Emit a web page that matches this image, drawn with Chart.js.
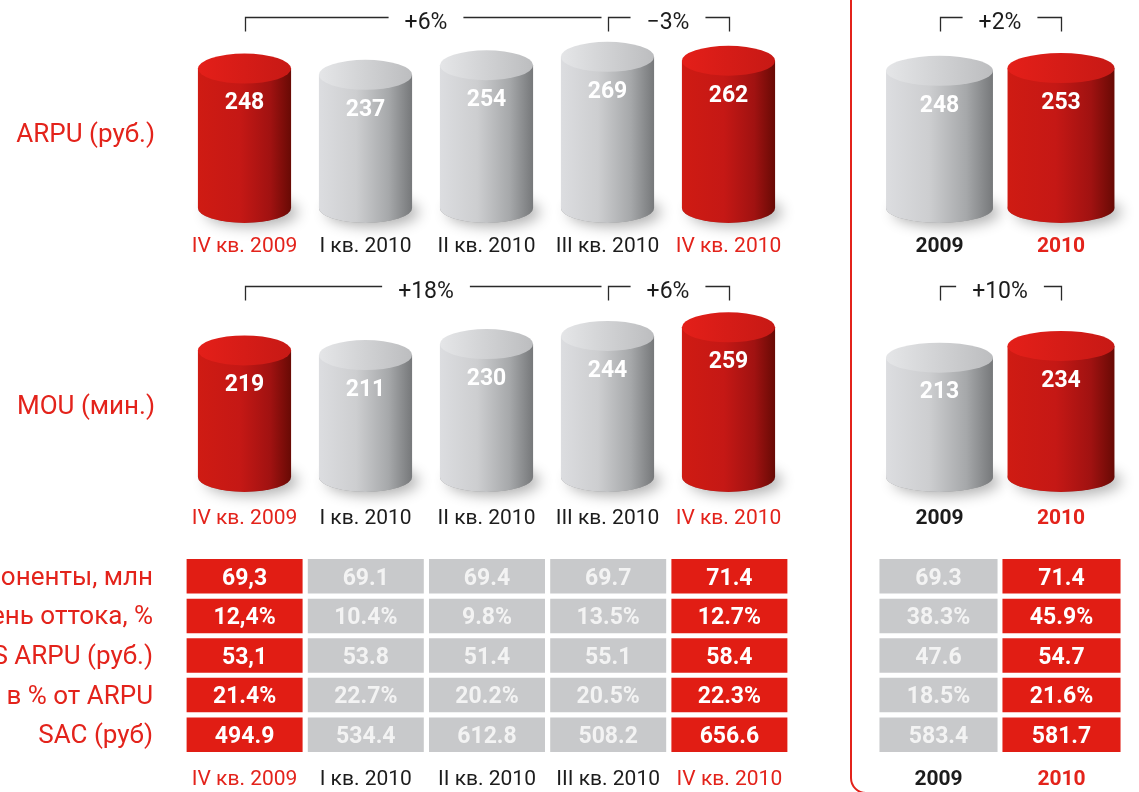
<!DOCTYPE html>
<html><head><meta charset="utf-8">
<script src="https://cdn.jsdelivr.net/npm/chart.js@4.4.1/dist/chart.umd.min.js"></script>
<style>
html,body{margin:0;padding:0;background:#fff;overflow:hidden;}
#wrap{position:relative;width:1139px;height:792px;overflow:hidden;background:#fff;}
canvas{position:absolute;left:0;top:0;}
#frame{position:absolute;left:850px;top:-30px;width:400px;height:824px;border:2.5px solid #e3231b;border-radius:16px;box-sizing:border-box;}
</style></head><body>
<div id="wrap">
<div id="frame"></div>
<canvas id="arpuQ" width="1139" height="792"></canvas>
<canvas id="arpuY" width="1139" height="792"></canvas>
<canvas id="mouQ" width="1139" height="792"></canvas>
<canvas id="mouY" width="1139" height="792"></canvas>
<canvas id="tabQ" width="1139" height="792"></canvas>
<canvas id="tabY" width="1139" height="792"></canvas>
</div>
<script>
// ---------- DATA ----------
const quarters = ['IV кв. 2009', 'I кв. 2010', 'II кв. 2010', 'III кв. 2010', 'IV кв. 2010'];
const years = ['2009', '2010'];
const highlightQ = [true, false, false, false, true];
const highlightY = [false, true];

const arpuQuarterly = [248, 237, 254, 269, 262];
const arpuYearly = [248, 253];
const mouQuarterly = [219, 211, 230, 244, 259];
const mouYearly = [213, 234];

const arpuQChanges = [{from: 0, to: 3, text: '+6%', rightTick: false}, {from: 3, to: 4, text: '−3%', rightTick: true}];
const arpuYChanges = [{from: 0, to: 1, text: '+2%', rightTick: true}];
const mouQChanges = [{from: 0, to: 3, text: '+18%', rightTick: false}, {from: 3, to: 4, text: '+6%', rightTick: true}];
const mouYChanges = [{from: 0, to: 1, text: '+10%', rightTick: true}];

const sideLabels = ['ARPU (руб.)', 'MOU (мин.)'];
const rowLabels = ['Абоненты, млн', 'Уровень оттока, %', 'VAS ARPU (руб.)', 'VAS - в % от ARPU', 'SAC (руб)'];
const tableQuarterly = [
  ['69,3', '69.1', '69.4', '69.7', '71.4'],
  ['12,4%', '10.4%', '9.8%', '13.5%', '12.7%'],
  ['53,1', '53.8', '51.4', '55.1', '58.4'],
  ['21.4%', '22.7%', '20.2%', '20.5%', '22.3%'],
  ['494.9', '534.4', '612.8', '508.2', '656.6']
];
const tableYearly = [
  ['69.3', '71.4'],
  ['38.3%', '45.9%'],
  ['47.6', '54.7'],
  ['18.5%', '21.6%'],
  ['583.4', '581.7']
];

// ---------- STYLE ----------
const W = 1139, H = 792;
const FONT = 'Roboto, "Open Sans", Arial, sans-serif';
const RED_TEXT = '#e3231b', BLACK_TEXT = '#1c1c1c';
const CELL_RED = '#e11d14', CELL_GRAY = '#c8c9cb';

function baseOptions(pad, yOpts) {
  return {
    responsive: false, animation: false, events: [],
    layout: {padding: pad},
    plugins: {legend: {display: false}, tooltip: {enabled: false}},
    scales: {x: {display: false}, y: Object.assign({display: false}, yOpts)}
  };
}

function drawCategoryLabels(ctx, xScale, labels, hi, y, bold) {
  ctx.save();
  ctx.font = (bold ? 'bold ' : '') + '21px ' + FONT;
  ctx.textAlign = 'center'; ctx.textBaseline = 'middle';
  labels.forEach((l, i) => {
    ctx.fillStyle = hi[i] ? RED_TEXT : BLACK_TEXT;
    ctx.fillText(l, xScale.getPixelForValue(i), y);
  });
  ctx.restore();
}

function cylinderChart(id, labels, values, hi, o) {
  const max = 300;
  const top = o.baseline - max * o.pxPerUnit;
  const cfg = {
    type: 'bar',
    data: {labels: labels, datasets: [{data: values, backgroundColor: 'rgba(0,0,0,0)', borderWidth: 0,
      barPercentage: o.barPct, categoryPercentage: 1}]},
    options: baseOptions({left: o.x0, right: W - o.x1, top: top, bottom: H - o.baseline}, {min: 0, max: max}),
    plugins: [{
      id: 'cyl',
      afterDatasetsDraw(chart) {
        const ctx = chart.ctx;
        const meta = chart.getDatasetMeta(0);
        const ry = 15;
        meta.data.forEach((bar, i) => {
          const p = bar.getProps(['x', 'y', 'base', 'width'], true);
          const x = p.x, y = p.y, base = p.base, w = p.width;
          const l = x - w / 2, r = x + w / 2, rx = w / 2;
          const red = hi[i];
          // shadow
          ctx.save();
          ctx.shadowColor = 'rgba(0,0,0,0.30)'; ctx.shadowBlur = 14; ctx.shadowOffsetX = 7; ctx.shadowOffsetY = 4;
          ctx.beginPath(); ctx.ellipse(x, base, rx, ry, 0, 0, Math.PI * 2);
          ctx.fillStyle = '#999'; ctx.fill();
          ctx.restore();
          // body
          const g = ctx.createLinearGradient(l, 0, r, 0);
          if (red) {
            g.addColorStop(0, '#cf1b13'); g.addColorStop(0.45, '#c51815');
            g.addColorStop(0.78, '#a01211'); g.addColorStop(1, '#680a05');
          } else {
            g.addColorStop(0, '#dcdde0'); g.addColorStop(0.4, '#cdced0');
            g.addColorStop(0.75, '#a6a8aa'); g.addColorStop(1, '#76787a');
          }
          ctx.save();
          ctx.beginPath();
          ctx.moveTo(l, y); ctx.lineTo(l, base);
          ctx.ellipse(x, base, rx, ry, 0, Math.PI, 0, true);
          ctx.lineTo(r, y); ctx.closePath();
          ctx.fillStyle = g; ctx.fill();
          // top
          const gt = ctx.createLinearGradient(l, 0, r, 0);
          if (red) { gt.addColorStop(0, '#e41f19'); gt.addColorStop(1, '#c71915'); }
          else { gt.addColorStop(0, '#e5e6e8'); gt.addColorStop(1, '#bcbdbf'); }
          ctx.beginPath(); ctx.ellipse(x, y, rx, ry, 0, 0, Math.PI * 2);
          ctx.fillStyle = gt; ctx.fill();
          // value
          ctx.font = 'bold 23px ' + FONT;
          ctx.textAlign = 'center'; ctx.textBaseline = 'middle';
          ctx.fillStyle = '#ffffff';
          ctx.fillText(String(values[i]), x, y + 35);
          ctx.restore();
        });
        const xs = chart.scales.x;
        drawCategoryLabels(ctx, xs, labels, hi, o.labelY, o.bold);
        // brackets
        ctx.save();
        ctx.strokeStyle = '#2a2a2a'; ctx.lineWidth = 1.3;
        ctx.font = '23px ' + FONT; ctx.fillStyle = '#1c1c1c';
        ctx.textAlign = 'center'; ctx.textBaseline = 'middle';
        const by = o.bracketY + 0.5;
        o.brackets.forEach(b => {
          const xa = Math.round(xs.getPixelForValue(b.from)) + 0.5;
          const xbRaw = Math.round(xs.getPixelForValue(b.to)) + 0.5;
          const xb = b.rightTick ? xbRaw : xbRaw - 7;
          const cx = (xa + xbRaw) / 2 - 1;
          const half = ctx.measureText(b.text).width / 2 + 16;
          ctx.beginPath();
          ctx.moveTo(xa, by + 14); ctx.lineTo(xa, by); ctx.lineTo(cx - half, by);
          ctx.moveTo(cx + half, by); ctx.lineTo(xb, by);
          if (b.rightTick) ctx.lineTo(xb, by + 14);
          ctx.stroke();
          ctx.fillText(b.text, cx, by + 6);
        });
        ctx.restore();
        if (o.sideLabel) {
          ctx.save();
          ctx.font = '26px ' + FONT; ctx.fillStyle = RED_TEXT;
          ctx.textAlign = 'right'; ctx.textBaseline = 'middle';
          ctx.fillText(o.sideLabel, 155, o.sideY + 2);
          ctx.restore();
        }
      }
    }]
  };
  return new Chart(document.getElementById(id), cfg);
}

function tableChart(id, labels, rows, hi, o) {
  const datasets = rows.map((row, r) => ({
    data: row.map(() => [r + 0.065, r + 0.935]),
    backgroundColor: hi.map(h => h ? CELL_RED : CELL_GRAY),
    borderWidth: 0, grouped: false, barPercentage: o.barPct, categoryPercentage: 1
  }));
  const cfg = {
    type: 'bar',
    data: {labels: labels, datasets: datasets},
    options: baseOptions({left: o.x0, right: W - o.x1, top: o.top, bottom: H - o.bottom},
      {min: 0, max: rows.length, reverse: true}),
    plugins: [{
      id: 'cells',
      afterDatasetsDraw(chart) {
        const ctx = chart.ctx;
        ctx.save();
        ctx.font = 'bold 23px ' + FONT;
        ctx.textAlign = 'center'; ctx.textBaseline = 'middle';
        rows.forEach((row, r) => {
          const meta = chart.getDatasetMeta(r);
          meta.data.forEach((bar, c) => {
            const p = bar.getProps(['x', 'y', 'base'], true);
            ctx.fillStyle = hi[c] ? '#ffffff' : '#f3f3f3';
            ctx.fillText(row[c], p.x, (p.y + p.base) / 2 + 2.5);
          });
        });
        ctx.restore();
        drawCategoryLabels(ctx, chart.scales.x, labels, hi, o.labelY, o.bold);
        if (o.rowLabels) {
          const ys = chart.scales.y;
          ctx.save();
          ctx.font = '26px ' + FONT; ctx.fillStyle = RED_TEXT;
          ctx.textAlign = 'right'; ctx.textBaseline = 'middle';
          o.rowLabels.forEach((t, r) => ctx.fillText(t, 153, ys.getPixelForValue(r + 0.5) + 2));
          ctx.restore();
        }
      }
    }]
  };
  return new Chart(document.getElementById(id), cfg);
}

cylinderChart('arpuQ', quarters, arpuQuarterly, highlightQ,
  {x0: 184, x1: 789, baseline: 208, pxPerUnit: 0.562, barPct: 0.77, labelY: 247, bold: false,
   brackets: arpuQChanges, bracketY: 17, sideLabel: sideLabels[0], sideY: 133});
cylinderChart('arpuY', years, arpuYearly, highlightY,
  {x0: 878.75, x1: 1121.75, baseline: 208, pxPerUnit: 0.553, barPct: 0.88, labelY: 247, bold: true,
   brackets: arpuYChanges, bracketY: 17});
cylinderChart('mouQ', quarters, mouQuarterly, highlightQ,
  {x0: 184, x1: 789, baseline: 477, pxPerUnit: 0.578, barPct: 0.77, labelY: 519, bold: false,
   brackets: mouQChanges, bracketY: 286, sideLabel: sideLabels[1], sideY: 405});
cylinderChart('mouY', years, mouYearly, highlightY,
  {x0: 878.75, x1: 1121.75, baseline: 477, pxPerUnit: 0.56, barPct: 0.88, labelY: 519, bold: true,
   brackets: mouYChanges, bracketY: 286});
tableChart('tabQ', quarters, tableQuarterly, highlightQ,
  {x0: 184, x1: 790, barPct: 0.957, top: 556.5, bottom: 754.5, labelY: 780, bold: false, rowLabels: rowLabels});
tableChart('tabY', years, tableYearly, highlightY,
  {x0: 877, x1: 1123, barPct: 0.96, top: 556.5, bottom: 754.5, labelY: 780, bold: true});
</script>
</body></html>
